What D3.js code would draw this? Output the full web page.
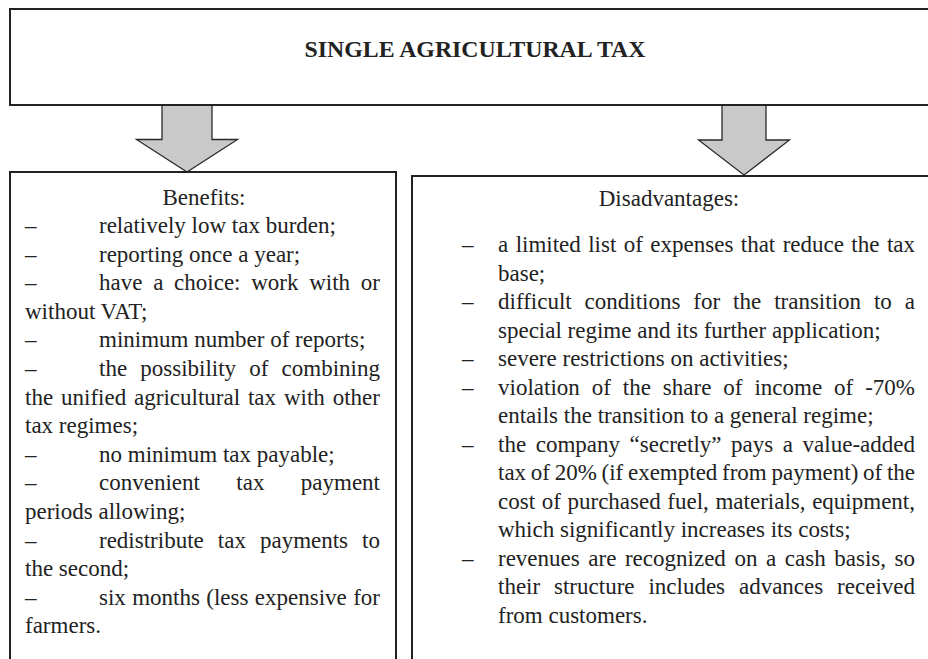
<!DOCTYPE html>
<html>
<head>
<meta charset="utf-8">
<script src="https://cdn.jsdelivr.net/npm/d3@7"></script>
<style>
  html, body { margin: 0; padding: 0; background: #fff; }
  svg { display: block; }
</style>
</head>
<body>
<div id="chart"></div>
<script>
// ---- data ----
const titleText = "SINGLE AGRICULTURAL TAX";
const benefitsTitle = "Benefits:";
const disadvantagesTitle = "Disadvantages:";
const benefits = [
  ["relatively low tax burden;"],
  ["reporting once a year;"],
  ["have a choice: work with or", "without VAT;"],
  ["minimum number of reports;"],
  ["the possibility of combining", "the unified agricultural tax with other", "tax regimes;"],
  ["no minimum tax payable;"],
  ["convenient tax payment", "periods allowing;"],
  ["redistribute tax payments to", "the second;"],
  ["six months (less expensive for", "farmers."]
];
const disadvantages = [
  ["a limited list of expenses that reduce the tax", "base;"],
  ["difficult conditions for the transition to a", "special regime and its further application;"],
  ["severe restrictions on activities;"],
  ["violation of the share of income of -70%", "entails the transition to a general regime;"],
  ["the company \u201csecretly\u201d pays a value-added", "tax of 20% (if exempted from payment) of the", "cost of purchased fuel, materials, equipment,", "which significantly increases its costs;"],
  ["revenues are recognized on a cash basis, so", "their structure includes advances received", "from customers."]
];

// ---- drawing ----
const W = 928, H = 659;
const ink = "#222";
const svg = d3.select("#chart").append("svg")
  .attr("width", W).attr("height", H)
  .style("font-family", "'Liberation Serif', 'Times New Roman', serif")
  .style("font-size", "23px");

svg.append("rect").attr("width", W).attr("height", H).attr("fill", "#fff");

// top box
svg.append("rect")
  .attr("x", 10).attr("y", 9).attr("width", 960).attr("height", 96)
  .attr("fill", "#fff").attr("stroke", ink).attr("stroke-width", 2);
svg.append("text")
  .attr("x", 475).attr("y", 57)
  .attr("text-anchor", "middle")
  .attr("font-weight", "bold")
  .attr("font-size", "23.8px")
  .attr("fill", ink)
  .text(titleText);

// arrows
function arrow(cx, shaftW, headW, top, shoulder, tip) {
  const p = d3.path();
  p.moveTo(cx - shaftW / 2, top);
  p.lineTo(cx - shaftW / 2, shoulder);
  p.lineTo(cx - headW / 2, shoulder);
  p.lineTo(cx, tip);
  p.lineTo(cx + headW / 2, shoulder);
  p.lineTo(cx + shaftW / 2, shoulder);
  p.lineTo(cx + shaftW / 2, top);
  svg.append("path").attr("d", p.toString())
    .attr("fill", "#c9c9c9").attr("stroke", "#2a2a2a").attr("stroke-width", 1.3)
    .attr("stroke-linejoin", "miter");
}
arrow(187, 50, 101, 106, 139.5, 172);
arrow(744, 44, 91, 106, 140, 175);

// bottom boxes
svg.append("rect")
  .attr("x", 10).attr("y", 172).attr("width", 386).attr("height", 600)
  .attr("fill", "none").attr("stroke", ink).attr("stroke-width", 2);
svg.append("rect")
  .attr("x", 412).attr("y", 176).attr("width", 600).attr("height", 600)
  .attr("fill", "none").attr("stroke", ink).attr("stroke-width", 2);

function drawLine(g, text, x0, x1, y, justify) {
  if (!justify) {
    g.append("text").attr("x", x0).attr("y", y).text(text);
    return;
  }
  const words = text.split(" ");
  const nodes = words.map(w => g.append("text").attr("y", y).text(w));
  const widths = nodes.map(n => n.node().getComputedTextLength());
  const gap = words.length > 1 ? (x1 - x0 - d3.sum(widths)) / (words.length - 1) : 0;
  let x = x0;
  nodes.forEach((n, i) => { n.attr("x", x); x += widths[i] + gap; });
}

function drawList(items, opts) {
  const g = svg.append("g").attr("fill", ink);
  g.append("text").attr("x", opts.headX).attr("y", opts.headY)
    .attr("text-anchor", "middle").text(opts.head);
  const yScale = d3.scaleLinear().domain([0, 1]).range([opts.y0, opts.y0 + opts.step]);
  let k = 0;
  items.forEach(item => {
    item.forEach((line, j) => {
      const y = yScale(k);
      const last = j === item.length - 1;
      if (j === 0) {
        g.append("text").attr("x", opts.dashX).attr("y", y).text("\u2013");
        drawLine(g, line, opts.firstX, opts.right, y, !last);
      } else {
        drawLine(g, line, opts.contX, opts.right, y, !last);
      }
      k++;
    });
  });
}

drawList(benefits, {
  head: benefitsTitle, headX: 204, headY: 205,
  y0: 233, step: 28.6,
  dashX: 25, firstX: 99, contX: 25, right: 380
});
drawList(disadvantages, {
  head: disadvantagesTitle, headX: 669, headY: 206,
  y0: 252, step: 28.5,
  dashX: 462, firstX: 498, contX: 498, right: 915
});
</script>
</body>
</html>
